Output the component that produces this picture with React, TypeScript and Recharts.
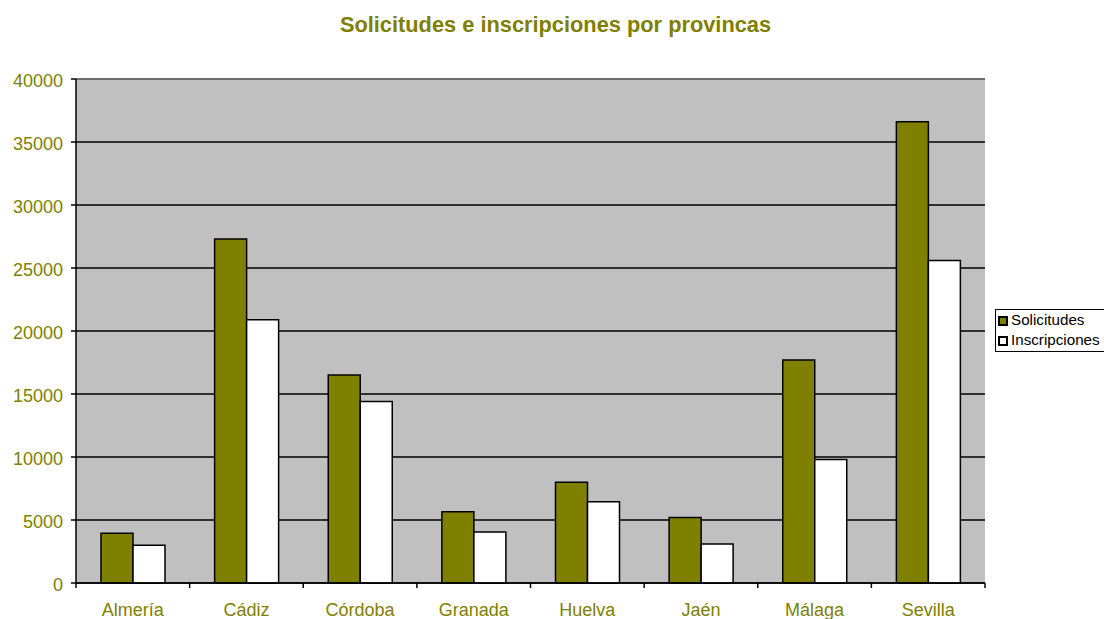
import React from 'react';
import { BarChart, Bar, XAxis, YAxis, CartesianGrid, ReferenceLine } from 'recharts';

const categories = ['Almería', 'Cádiz', 'Córdoba', 'Granada', 'Huelva', 'Jaén', 'Málaga', 'Sevilla'];
const solicitudes = [3950, 27300, 16500, 5650, 8000, 5200, 17700, 36600];
const inscripciones = [3000, 20900, 14400, 4050, 6450, 3100, 9800, 25600];
const yTicks = [0, 5000, 10000, 15000, 20000, 25000, 30000, 35000, 40000];

const OLIVE = '#808000';
const FONT = '"Liberation Sans", Arial, sans-serif';

// plot area: left 76, right 985
const PLOT_LEFT = 76;
const PLOT_RIGHT = 985;
const BAND = (PLOT_RIGHT - PLOT_LEFT) / categories.length;

const data = categories.map((name, i) => ({
  name,
  solicitudes: solicitudes[i],
  inscripciones: inscripciones[i],
}));

function XTick(props: any) {
  const { x, y, payload, index } = props;
  const left = x - BAND / 2;
  return (
    <g>
      <line x1={left} y1={y} x2={left} y2={y + 5} stroke="#000" strokeWidth={1.5} />
      {index === categories.length - 1 && (
        <line x1={x + BAND / 2} y1={y} x2={x + BAND / 2} y2={y + 5} stroke="#000" strokeWidth={1.5} />
      )}
      <text x={x} y={y + 33} textAnchor="middle" fill={OLIVE} fontSize={18} fontFamily={FONT}>
        {payload.value}
      </text>
    </g>
  );
}

function Swatch({ color }: { color: string }) {
  return (
    <span
      style={{
        display: 'inline-block',
        width: 10,
        height: 10,
        boxSizing: 'border-box',
        background: color,
        border: '2px solid #000',
        marginRight: 3,
        verticalAlign: -1,
      }}
    />
  );
}

export default function App() {
  return (
    <div
      style={{
        position: 'absolute',
        left: 0,
        top: 0,
        width: 1104,
        height: 619,
        background: '#fff',
        overflow: 'hidden',
        fontFamily: FONT,
      }}
    >
      <div
        style={{
          position: 'absolute',
          left: 0,
          top: 12,
          width: 1111,
          textAlign: 'center',
          color: OLIVE,
          fontWeight: 'bold',
          fontSize: 21.8,
        }}
      >
        Solicitudes e inscripciones por provincas
      </div>

      <BarChart
        width={1104}
        height={619}
        data={data}
        margin={{ top: 79, right: 1104 - PLOT_RIGHT, left: 0, bottom: 0 }}
        barGap={0}
        barCategoryGap="22%"
      >
        <CartesianGrid vertical={false} stroke="#000" strokeWidth={1.5} fill="#C0C0C0" fillOpacity={1} />
        <ReferenceLine y={40000} stroke="#808080" strokeWidth={1.5} />
        <XAxis
          dataKey="name"
          height={36}
          tickSize={0}
          tickMargin={0}
          tickLine={false}
          interval={0}
          axisLine={{ stroke: '#000', strokeWidth: 1.5 }}
          tick={<XTick />}
        />
        <YAxis
          width={PLOT_LEFT}
          domain={[0, 40000]}
          ticks={yTicks}
          interval={0}
          tickSize={5}
          tickMargin={8}
          axisLine={{ stroke: '#000', strokeWidth: 1.5 }}
          tickLine={{ stroke: '#000', strokeWidth: 1.5 }}
          tick={{ fill: OLIVE, fontSize: 18, fontFamily: FONT, dy: 2 }}
        />
        <YAxis
          yAxisId="right"
          orientation="right"
          width={0}
          tick={false}
          tickLine={false}
          axisLine={{ stroke: '#808080', strokeWidth: 2 }}
        />
        <Bar dataKey="solicitudes" name="Solicitudes" fill={OLIVE} stroke="#000" strokeWidth={1.5} isAnimationActive={false} />
        <Bar dataKey="inscripciones" name="Inscripciones" fill="#fff" stroke="#000" strokeWidth={1.5} isAnimationActive={false} />
      </BarChart>

      <div
        style={{
          position: 'absolute',
          left: 995,
          top: 309,
          width: 120,
          height: 43,
          border: '1.5px solid #000',
          background: '#fff',
          fontSize: 15.2,
          lineHeight: '20px',
          color: '#000',
          paddingLeft: 2,
          boxSizing: 'border-box',
          whiteSpace: 'nowrap',
        }}
      >
        <div><Swatch color={OLIVE} />Solicitudes</div>
        <div><Swatch color="#fff" />Inscripciones</div>
      </div>
    </div>
  );
}
